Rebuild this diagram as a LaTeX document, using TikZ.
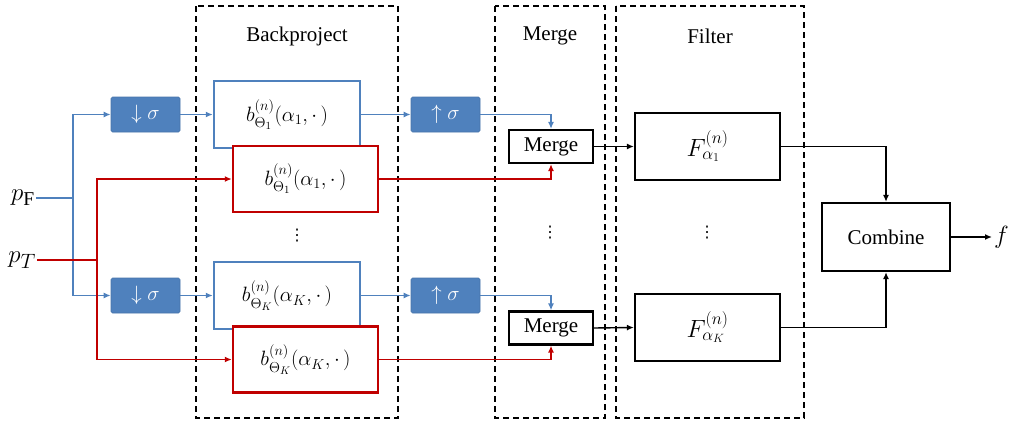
\documentclass[tikz,border=0pt]{standalone}
\usepackage{amsmath,amssymb}
\usepackage{fontspec}
\setmainfont{Liberation Serif}
\newfontfamily\dotsfont{DejaVu Sans}
\usepackage{tikz}
\usetikzlibrary{arrows.meta,calc,positioning}
\definecolor{OfficeBlue}{RGB}{79,129,189}
\definecolor{OfficeRed}{RGB}{192,0,0}

\begin{document}
\begin{tikzpicture}[x=1pt,y=-1pt,>={Latex[length=7pt,width=6pt]},font=\fontsize{21}{25}\selectfont,
  sampbox/.style={fill=OfficeBlue,draw=OfficeBlue!90!black,line width=.6pt,rounded corners=1.5pt,text=white,minimum width=69pt,minimum height=35pt,inner sep=0pt},
  backblue/.style={draw=OfficeBlue,line width=2.4pt,fill=white,minimum width=146pt,minimum height=67pt,inner sep=0pt,font=\fontsize{22}{25}\selectfont},
  backred/.style={draw=OfficeRed,line width=2.4pt,fill=white,minimum width=145pt,minimum height=66pt,inner sep=0pt,font=\fontsize{22}{25}\selectfont},
  blackbox/.style={draw,line width=2.2pt,fill=white,inner sep=0pt},
  stage/.style={draw,dashed,line width=1.4pt,dash pattern=on 6pt off 4pt},
  vdotsnode/.style={font=\dotsfont\fontsize{16}{18}\selectfont,inner sep=0pt},
  bigmath/.style={font=\fontsize{28}{30}\selectfont},
  blueline/.style={OfficeBlue,line width=1.6pt},
  redline/.style={OfficeRed,line width=1.6pt},
  blackline/.style={black,line width=1.4pt}]
\useasboundingbox (0,0) rectangle (1009,423);
% stages
\draw[stage] (196,6) rectangle (398,418);\draw[stage] (495,6) rectangle (605,418);\draw[stage] (616,6) rectangle (804,418);
\node (tBack) at (297,36){Backproject};\node (tMerge) at (550,36){Merge};\node (tFilter) at (710,36){Filter};
% inputs
\node[bigmath,anchor=east,inner sep=1pt] (pF) at (36,198){$p_{\mathrm{F}}$};
\node[bigmath,anchor=east,inner sep=1pt] (pT) at (37,260){$p_T$};
\coordinate (splitF) at (73,198);\coordinate (splitT) at (97,260);
% downsampling
\node[sampbox] (dn1) at (145.5,114.5){$\downarrow\sigma$};
\node[sampbox] (dnK) at (145.5,295.5){$\downarrow\sigma$};
% backprojection
\node[backblue] (bb1) at (287,114.5){$b^{(n)}_{\Theta_1}(\alpha_1,\cdot\,)$};
\node[backblue] (bbK) at (287,295.5){$b^{(n)}_{\Theta_K}(\alpha_K,\cdot\,)$};
\node[backred] (rb1) at (305.5,179){$b^{(n)}_{\Theta_1}(\alpha_1,\cdot\,)$};
\node[backred] (rbK) at (305.5,359.5){$b^{(n)}_{\Theta_K}(\alpha_K,\cdot\,)$};
\node[vdotsnode] (dotsB) at (297,236){⋮};
% upsampling
\node[sampbox] (up1) at (445.5,114.5){$\uparrow\sigma$};
\node[sampbox] (upK) at (445.5,295.5){$\uparrow\sigma$};
% merge
\node[blackbox,minimum width=84pt,minimum height=33pt] (mg1) at (551,146.5){Merge};
\node[blackbox,minimum width=84pt,minimum height=33pt] (mgK) at (551,328){Merge};
\node[vdotsnode] (dotsM) at (550,233){⋮};
% filter
\node[blackbox,minimum width=145pt,minimum height=67pt,font=\fontsize{23}{25}\selectfont] (ft1) at (707.5,146.5){$F^{(n)}_{\alpha_1}$};
\node[blackbox,minimum width=145pt,minimum height=67pt,font=\fontsize{23}{25}\selectfont] (ftK) at (707.5,327.5){$F^{(n)}_{\alpha_K}$};
\node[vdotsnode] (dotsF) at (707,233){⋮};
% combine
\node[blackbox,minimum width=128pt,minimum height=68pt] (comb) at (886,237){Combine};
\node[bigmath,anchor=west,inner sep=2pt] (out) at (992,237){$f$};
% blue path
\draw[blueline] (pF.east)--(splitF);
\draw[blueline,->] (splitF) |- (dn1.west);\draw[blueline,->] (splitF) |- (dnK.west);
\draw[blueline,->] (dn1.east)--(bb1.west);\draw[blueline,->] (dnK.east)--(bbK.west);
\draw[blueline,->] (bb1.east)--(up1.west);\draw[blueline,->] (bbK.east)--(upK.west);
\draw[blueline,->] (up1.east) -| (mg1.north);\draw[blueline,->] (upK.east) -| (mgK.north);
% red path
\draw[redline] (pT.east)--(splitT);
\draw[redline,->] (splitT) |- (rb1.west);\draw[redline,->] (splitT) |- (rbK.west);
\draw[redline,->] (rb1.east) -| (mg1.south);\draw[redline,->] (rbK.east) -| (mgK.south);
% black path
\draw[blackline,->] (mg1.east)--(ft1.west);\draw[blackline,->] (mgK.east)--(ftK.west);
\draw[blackline,->] (ft1.east) -| (comb.north);\draw[blackline,->] (ftK.east) -| (comb.south);
\draw[blackline,->] (comb.east)--(comb.east -| out.west);
\end{tikzpicture}
\end{document}
